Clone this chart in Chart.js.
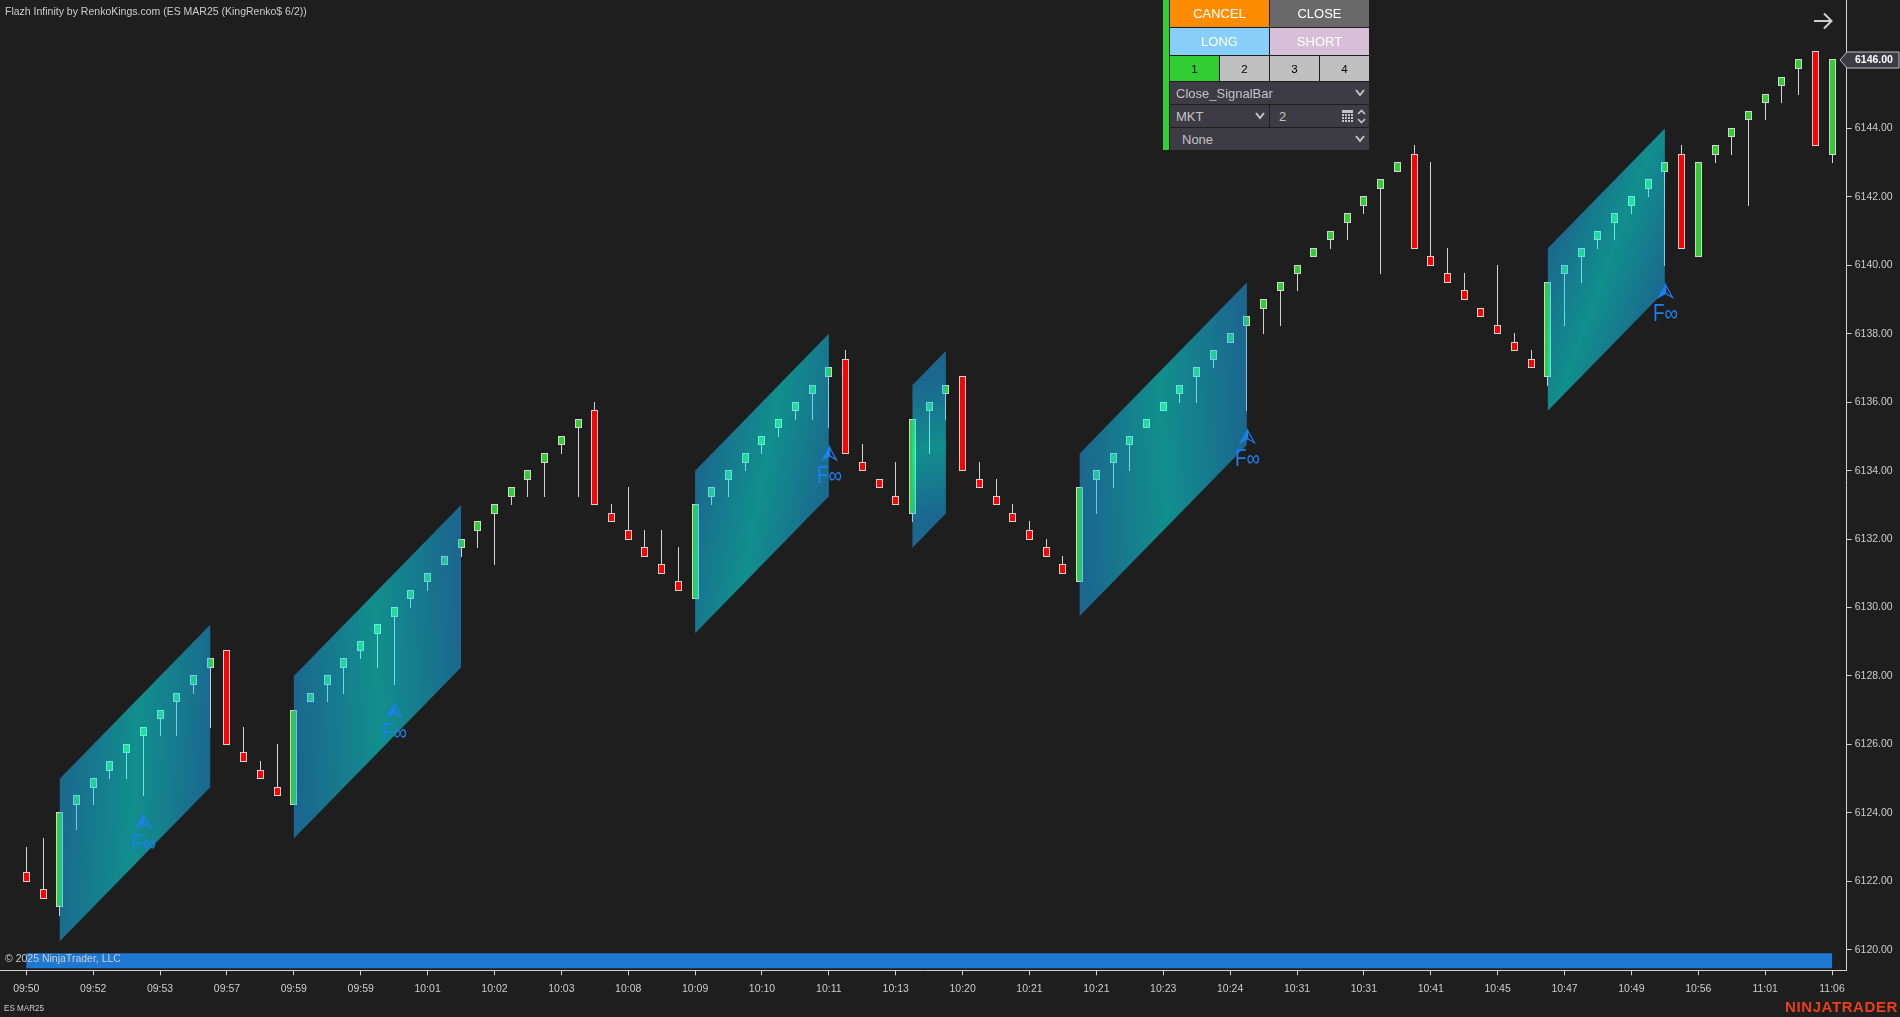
<!DOCTYPE html>
<html>
<head>
<meta charset="utf-8">
<title>ES MAR25</title>
<script src="https://cdn.jsdelivr.net/npm/chart.js@4/dist/chart.umd.min.js"></script>
<style>
  html, body { margin: 0; padding: 0; background: #1e1e1e; overflow: hidden; }
  #wrap { position: relative; width: 1900px; height: 1017px; }
  canvas { display: block; }
  .box { position: absolute; box-sizing: border-box; font: 13px "Liberation Sans", Arial, sans-serif; display: flex; align-items: center; }
  .btn { justify-content: center; color: #fff; }
  .num { justify-content: center; color: #000; font-size: 11.5px; background: #c0c0c0; }
  .row { background: #3d3b44; color: #c4c4c4; }
  .ico { position: absolute; }
</style>
</head>
<body>
<div id="wrap">
  <canvas id="myChart" width="1900" height="1017"></canvas>

  <!-- order panel -->
  <div class="box" style="left:1163px;top:0;width:6px;height:150px;background:#32cd32"></div>
  <div class="box btn" style="left:1170px;top:0;width:99px;height:27px;background:#ff8c00">CANCEL</div>
  <div class="box btn" style="left:1270px;top:0;width:99px;height:27px;background:#696969">CLOSE</div>
  <div class="box btn" style="left:1170px;top:28px;width:99px;height:27px;background:#87cefa">LONG</div>
  <div class="box btn" style="left:1270px;top:28px;width:99px;height:27px;background:#d8bfd8">SHORT</div>
  <div class="box num" style="left:1170px;top:56px;width:49px;height:25px;background:#32cd32">1</div>
  <div class="box num" style="left:1220px;top:56px;width:49px;height:25px">2</div>
  <div class="box num" style="left:1270px;top:56px;width:49px;height:25px">3</div>
  <div class="box num" style="left:1320px;top:56px;width:49px;height:25px">4</div>
  <div class="box row" style="left:1170px;top:82px;width:199px;height:22px;padding-left:6px">Close_SignalBar
    <svg class="ico" style="left:185px;top:7px" width="10" height="8"><polyline points="1,1 5,6 9,1" fill="none" stroke="#c4c4c4" stroke-width="2"/></svg>
  </div>
  <div class="box row" style="left:1170px;top:105px;width:99px;height:22px;padding-left:6px">MKT
    <svg class="ico" style="left:85px;top:7px" width="10" height="8"><polyline points="1,1 5,6 9,1" fill="none" stroke="#c4c4c4" stroke-width="2"/></svg>
  </div>
  <div class="box row" style="left:1270px;top:105px;width:99px;height:22px;padding-left:9px">2
    <svg class="ico" style="left:72px;top:5px" width="12" height="13" fill="#c4c4c4">
      <rect x="0" y="0" width="11" height="3"/><rect x="0" y="4" width="2" height="2"/><rect x="3" y="4" width="2" height="2"/><rect x="6" y="4" width="2" height="2"/><rect x="9" y="4" width="2" height="2"/>
      <rect x="0" y="7" width="2" height="2"/><rect x="3" y="7" width="2" height="2"/><rect x="6" y="7" width="2" height="2"/><rect x="9" y="7" width="2" height="2"/>
      <rect x="0" y="10" width="2" height="2"/><rect x="3" y="10" width="2" height="2"/><rect x="6" y="10" width="2" height="2"/><rect x="9" y="10" width="2" height="2"/>
    </svg>
    <svg class="ico" style="left:87px;top:4px" width="9" height="15"><polyline points="1,5 4.5,1.5 8,5" fill="none" stroke="#c4c4c4" stroke-width="1.6"/><polyline points="1,10 4.5,13.5 8,10" fill="none" stroke="#c4c4c4" stroke-width="1.6"/></svg>
  </div>
  <div class="box row" style="left:1170px;top:128px;width:199px;height:22px;padding-left:12px">None
    <svg class="ico" style="left:185px;top:7px" width="10" height="8"><polyline points="1,1 5,6 9,1" fill="none" stroke="#c4c4c4" stroke-width="2"/></svg>
  </div>

  <!-- arrow top right -->
  <svg class="ico" style="left:1812px;top:10px" width="22" height="22"><path d="M2 11 H19 M12 3.5 L19.5 11 L12 18.5" fill="none" stroke="#d0d0d0" stroke-width="2"/></svg>
</div>

<script>
// Time labels (one every 4 bars)
const timeLabels = ['09:50','09:52','09:53','09:57','09:59','09:59','10:01','10:02','10:03','10:08','10:09','10:10','10:11','10:13',
  '10:20','10:21','10:21','10:23','10:24','10:31','10:31','10:41','10:45','10:47','10:49','10:56','11:01','11:06'];
const priceTicks = [6120,6122,6124,6126,6128,6130,6132,6134,6136,6138,6140,6142,6144];

// Renko bars
const opens = [6122.25,6121.75,6121.25,6124.25,6124.75,6125.25,6125.75,6126.25,6126.75,6127.25,
  6127.75,6128.25,6128.75,6125.75,6125.25,6124.75,6124.25,6127.25,6127.75,6128.25,
  6128.75,6129.25,6129.75,6130.25,6130.75,6131.25,6131.75,6132.25,6132.75,6133.25,
  6133.75,6134.25,6134.75,6135.25,6135.75,6132.75,6132.25,6131.75,6131.25,6130.75,
  6130.25,6133.25,6133.75,6134.25,6134.75,6135.25,6135.75,6136.25,6136.75,6137.25,
  6134.25,6133.75,6133.25,6132.75,6135.75,6136.25,6136.75,6133.75,6133.25,6132.75,
  6132.25,6131.75,6131.25,6130.75,6133.75,6134.25,6134.75,6135.25,6135.75,6136.25,
  6136.75,6137.25,6137.75,6138.25,6138.75,6139.25,6139.75,6140.25,6140.75,6141.25,
  6141.75,6142.25,6142.75,6143.25,6140.25,6139.75,6139.25,6138.75,6138.25,6137.75,
  6137.25,6136.75,6139.75,6140.25,6140.75,6141.25,6141.75,6142.25,6142.75,6143.25,
  6140.25,6143.25,6143.75,6144.25,6144.75,6145.25,6145.75,6146.25,6143.25];
const closes = [6122,6121.5,6124,6124.5,6125,6125.5,6126,6126.5,6127,6127.5,
  6128,6128.5,6126,6125.5,6125,6124.5,6127,6127.5,6128,6128.5,
  6129,6129.5,6130,6130.5,6131,6131.5,6132,6132.5,6133,6133.5,
  6134,6134.5,6135,6135.5,6133,6132.5,6132,6131.5,6131,6130.5,
  6133,6133.5,6134,6134.5,6135,6135.5,6136,6136.5,6137,6134.5,
  6134,6133.5,6133,6135.5,6136,6136.5,6134,6133.5,6133,6132.5,
  6132,6131.5,6131,6133.5,6134,6134.5,6135,6135.5,6136,6136.5,
  6137,6137.5,6138,6138.5,6139,6139.5,6140,6140.5,6141,6141.5,
  6142,6142.5,6143,6140.5,6140,6139.5,6139,6138.5,6138,6137.5,
  6137,6139.5,6140,6140.5,6141,6141.5,6142,6142.5,6143,6140.5,
  6143,6143.5,6144,6144.5,6145,6145.5,6146,6143.5,6146];
const highs = [6123,6123.25,6124,6124.5,6125,6125.5,6126,6126.5,6127,6127.5,
  6128,6128.5,6128.75,6126.5,6125.5,6126,6127,6127.5,6128,6128.5,
  6129,6129.5,6130,6130.5,6131,6131.5,6132,6132.5,6133,6133.5,
  6134,6134.5,6135,6135.5,6136,6133,6133.5,6132.25,6132.25,6131.75,
  6133,6133.5,6134,6134.5,6135,6135.5,6136,6136.5,6137,6137.5,
  6134.75,6133.75,6134.25,6135.5,6136,6136.5,6136.75,6134.25,6133.75,6133,
  6132.5,6132,6131.5,6133.5,6134,6134.5,6135,6135.5,6136,6136.5,
  6137,6137.5,6138,6138.5,6139,6139.5,6140,6140.5,6141,6141.5,
  6142,6142.5,6143,6143.5,6143,6140.5,6139.75,6138.75,6140,6138,
  6137.5,6139.5,6140,6140.5,6141,6141.5,6142,6142.5,6143,6143.5,
  6143,6143.5,6144,6144.5,6145,6145.5,6146,6146.25,6146];
const lows = [6122,6121.5,6121,6123.5,6124.25,6125,6125,6124.5,6126.25,6126.25,
  6127.5,6126.5,6126,6125.5,6125,6124.5,6124.25,6127.25,6127.25,6127.5,
  6128.5,6128.25,6127.75,6130,6130.5,6131.25,6131.5,6131.75,6131.25,6133,
  6133.25,6133.25,6134.5,6133.25,6133,6132.5,6132,6131.5,6131,6130.5,
  6130.25,6133,6133.25,6134,6134.5,6135,6135.5,6135.5,6135.25,6134.5,
  6134,6133.5,6133,6132.5,6134.5,6135.5,6134,6133.5,6133,6132.5,
  6132,6131.5,6131,6130.75,6132.75,6133.5,6134,6135.25,6135.75,6136,
  6136,6137,6137.75,6135.75,6138,6138.25,6139.25,6140.25,6140.5,6140.75,
  6141.5,6139.75,6142.75,6140.5,6140,6139.5,6139,6138.5,6138,6137.5,
  6137,6136.5,6138.25,6139.5,6140.5,6140.75,6141.5,6142,6140,6140.5,
  6140.25,6143,6143.25,6141.75,6144.25,6144.75,6145,6143.5,6143];

// Channel boxes drawn over the bars
const channelStart = [2,16,40,53,63,91];
const channelEnd = [11,26,48,55,73,98];
const channelTopStart = [6125,6128,6134,6136.5,6134.5,6140.5];
const channelTopEnd = [6129.5,6133,6138,6137.5,6139.5,6144];
const channelBottomStart = [6120.25,6123.25,6129.25,6131.75,6129.75,6135.75];
const channelBottomEnd = [6124.75,6128.25,6133.25,6132.75,6134.75,6139.25];

// Signal markers and the band at the bottom
const markerBars = [7,22,48,73,98];
const markerText = 'F\u221e';
const bandBars = [0,108];
const bandPrice = [6119.68,6119.68];
const lastClose = 6146;

const UP = '#32cd32', DOWN = '#ff0000', OUTLINE = '#d3d3d3', AXIS = '#d3d3d3', LABEL = '#cccccc', BLUE = '#1f78d1', MARK = '#1e80f0';
const FONT = '"Liberation Sans", Arial, sans-serif';

// Snap bars on whole pixels so they stay crisp
const snapBars = {
  id: 'snapBars',
  afterDatasetsUpdate(chart) {
    chart.data.datasets.forEach((ds, k) => {
      if (ds.type === 'line') return;
      chart.getDatasetMeta(k).data.forEach(el => {
        el.x = Math.floor(el.x) + 0.5;
        el.width = ds.barThickness;
        const top = Math.floor(Math.min(el.y, el.base)), bottom = Math.ceil(Math.max(el.y, el.base));
        el.y = top;
        el.base = bottom;
        el.height = bottom - top;
      });
    });
  }
};

// Channels, markers and texts
const overlays = {
  id: 'overlays',
  afterDatasetsDraw(chart) {
    const { ctx, scales: { x, y } } = chart;
    ctx.save();
    channelStart.forEach((s, k) => {
      const x0 = x.getPixelForValue(s), x1 = x.getPixelForValue(channelEnd[k]);
      const yTL = y.getPixelForValue(channelTopStart[k]), yBL = y.getPixelForValue(channelBottomStart[k]);
      const yTR = y.getPixelForValue(channelTopEnd[k]), yBR = y.getPixelForValue(channelBottomEnd[k]);
      const g = ctx.createLinearGradient(x0, yTL, x1, yBR);
      g.addColorStop(0, 'rgba(24,176,255,0.5)');
      g.addColorStop(0.5, 'rgba(4,255,250,0.5)');
      g.addColorStop(1, 'rgba(24,176,255,0.5)');
      ctx.fillStyle = g;
      ctx.beginPath();
      ctx.moveTo(x0, yTL);
      ctx.lineTo(x1, yTR);
      ctx.lineTo(x1, yBR);
      ctx.lineTo(x0, yBL);
      ctx.closePath();
      ctx.fill();
    });

    markerBars.forEach(i => {
      const cx = Math.round(x.getPixelForValue(i)) + 0.5;
      const tip = y.getPixelForValue(lows[i]) + 19.5;
      ctx.fillStyle = MARK;
      ctx.strokeStyle = MARK;
      ctx.lineWidth = 1.2;
      ctx.beginPath();
      ctx.moveTo(cx, tip);
      ctx.lineTo(cx - 7, tip + 12.5);
      ctx.lineTo(cx, tip + 8.5);
      ctx.closePath();
      ctx.fill();
      ctx.stroke();
      ctx.beginPath();
      ctx.moveTo(cx, tip);
      ctx.lineTo(cx + 7, tip + 12.5);
      ctx.lineTo(cx, tip + 8.5);
      ctx.closePath();
      ctx.stroke();
      ctx.font = '23px ' + FONT;
      ctx.textAlign = 'center';
      ctx.textBaseline = 'alphabetic';
      ctx.fillText(markerText, cx, tip + 36, 25);
    });
    ctx.restore();
  },
  afterDraw(chart) {
    const { ctx, scales: { y } } = chart;
    ctx.save();
    ctx.textAlign = 'left';
    ctx.textBaseline = 'alphabetic';
    ctx.fillStyle = LABEL;
    ctx.font = '10.5px ' + FONT;
    ctx.fillText('Flazh Infinity by RenkoKings.com (ES MAR25 (KingRenko$ 6/2))', 5, 15);
    ctx.fillText('\u00a9 2025 NinjaTrader, LLC', 5, 962);
    ctx.font = '9.5px ' + FONT;
    ctx.fillText('ES MAR25', 4, 1011, 40);

    ctx.font = 'bold 15px ' + FONT;
    ctx.fillStyle = '#e8401c';
    ctx.letterSpacing = '0.6px';
    ctx.textAlign = 'right';
    ctx.fillText('NINJATRADER', 1898, 1012);
    ctx.letterSpacing = '0px';

    // last price flag
    const py = Math.round(y.getPixelForValue(lastClose));
    ctx.beginPath();
    ctx.moveTo(1840, py);
    ctx.lineTo(1847, py - 8);
    ctx.lineTo(1899, py - 8);
    ctx.lineTo(1899, py + 8);
    ctx.lineTo(1847, py + 8);
    ctx.closePath();
    ctx.fillStyle = '#3d3b44';
    ctx.fill();
    ctx.strokeStyle = '#c0c0c0';
    ctx.lineWidth = 1;
    ctx.stroke();
    ctx.fillStyle = '#ffffff';
    ctx.font = 'bold 10.5px ' + FONT;
    ctx.textAlign = 'left';
    ctx.textBaseline = 'middle';
    ctx.fillText(lastClose.toFixed(2), 1855, py + 0.5);
    ctx.restore();
  }
};

const bars = opens.map((o, i) => i);

new Chart(document.getElementById('myChart'), {
  type: 'bar',
  data: {
    datasets: [
      {
        label: 'Bodies',
        data: bars.map(i => ({ x: i, y: [opens[i], closes[i]] })),
        backgroundColor: bars.map(i => closes[i] >= opens[i] ? UP : DOWN),
        borderColor: OUTLINE,
        borderWidth: 1,
        borderSkipped: false,
        inflateAmount: 0,
        barThickness: 7,
        grouped: false,
        order: 1
      },
      {
        label: 'Wicks',
        data: bars.map(i => ({ x: i, y: [lows[i], highs[i]] })),
        backgroundColor: OUTLINE,
        borderWidth: 0,
        inflateAmount: 0,
        barThickness: 1,
        grouped: false,
        order: 2
      },
      {
        type: 'line',
        label: 'Band',
        data: bandBars.map((b, k) => ({ x: b, y: bandPrice[k] })),
        borderColor: BLUE,
        borderWidth: 15,
        pointRadius: 0,
        borderCapStyle: 'butt',
        order: 3
      }
    ]
  },
  options: {
    responsive: false,
    animation: false,
    events: [],
    layout: { padding: 0, autoPadding: false },
    plugins: { legend: { display: false }, tooltip: { enabled: false } },
    scales: {
      x: {
        type: 'linear',
        min: -1.573,
        max: 108.876,
        offset: false,
        afterBuildTicks: s => { s.ticks = timeLabels.map((t, k) => ({ value: k * 4 })); },
        afterFit: s => { s.height = 46.7; s.paddingLeft = 0; s.paddingRight = 0; },
        grid: { offset: false, drawOnChartArea: false, tickLength: 5, color: AXIS },
        border: { color: AXIS, width: 1 },
        ticks: {
          autoSkip: false,
          maxRotation: 0,
          padding: 8,
          color: LABEL,
          font: { family: FONT, size: 10.5 },
          callback: (v, index) => timeLabels[index]
        }
      },
      y: {
        type: 'linear',
        position: 'right',
        min: 6119.4,
        max: 6147.753,
        afterBuildTicks: s => { s.ticks = priceTicks.map(v => ({ value: v })); },
        afterFit: s => { s.width = 53.3; s.paddingTop = 0; s.paddingBottom = 0; },
        grid: { drawOnChartArea: false, tickLength: 5, color: AXIS },
        border: { color: AXIS, width: 1 },
        ticks: {
          padding: 3,
          color: LABEL,
          font: { family: FONT, size: 10.5 },
          callback: v => v.toFixed(2)
        }
      }
    }
  },
  plugins: [snapBars, overlays]
});
</script>
</body>
</html>
